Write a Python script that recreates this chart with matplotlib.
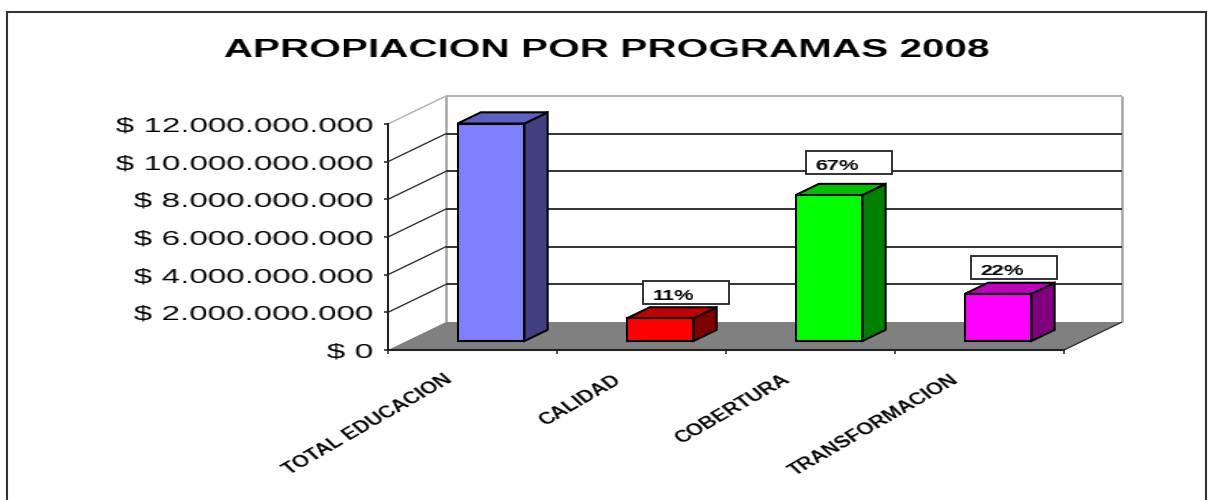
"""Excel style 3D column chart: apropiacion por programas 2008."""

import matplotlib
matplotlib.use("Agg")  # Non-interactive backend
import matplotlib.pyplot as plt
import matplotlib.ticker as ticker
import numpy as np
from matplotlib.patches import Polygon, Rectangle

# --- Data ---
CATEGORIES = ["TOTAL EDUCACION", "CALIDAD", "COBERTURA", "TRANSFORMACION"]
VALUES = [11.55e9, 1.2e9, 7.75e9, 2.5e9]
PERCENT_LABELS = [None, "11%", "67%", "22%"]
Y_TICKS = [0, 2e9, 4e9, 6e9, 8e9, 10e9, 12e9]

# face, top, side
BAR_COLORS = [
    ("#8080FF", "#6060BF", "#404080"),
    ("#FF0000", "#BF0000", "#800000"),
    ("#00FF00", "#00BF00", "#008000"),
    ("#FF00FF", "#BF00BF", "#800080"),
]

# --- Layout (pixels of the 1216x500 figure) ---
W, H = 1216, 500
LEFT, RIGHT, BOTTOM, TOP = 388, 1064, 350, 124
DEPTH_X, DEPTH_Y = 58, 28
BOX_OFFSETS = [None, (44, 14), (38, 21), (34, 15)]  # label box from bar centre / bar top

UX = len(CATEGORIES) / (RIGHT - LEFT)  # category units per pixel
UY = Y_TICKS[-1] / (BOTTOM - TOP)      # value units per pixel

plt.rcParams.update({
    "font.family": ["Liberation Sans", "DejaVu Sans"],
    "figure.dpi": 100,
})


def stretch_x(share, factor=1.5):
    """Agg filter widening a text (the source picture is stretched sideways).

    share says which part of the growth goes to the left.
    """
    def _filter(img, dpi):
        h, w = img.shape[:2]
        new_w = int(round(w * factor))
        xs = np.linspace(0, w - 1, new_w)
        lo = np.floor(xs).astype(int)
        hi = np.minimum(lo + 1, w - 1)
        frac = (xs - lo)[None, :, None]
        out = img[:, lo] * (1 - frac) + img[:, hi] * frac
        return out, -int((new_w - w) * share), 0
    return _filter


def project(x, y, d):
    """Oblique projection: d=0 is the front plane, d=1 the back wall."""
    return x + d * DEPTH_X * UX, y + d * DEPTH_Y * UY


def face(ax, points, color, zorder, edge="black", lw=1.5):
    ax.add_patch(Polygon([project(*p) for p in points], closed=True, facecolor=color,
                         edgecolor=edge, linewidth=lw, zorder=zorder, clip_on=False))


def line3d(ax, p0, p1, color, lw, zorder=1):
    a, b = project(*p0), project(*p1)
    ax.plot([a[0], b[0]], [a[1], b[1]], color=color, linewidth=lw, zorder=zorder,
            clip_on=False, solid_capstyle="butt")


fig = plt.figure(figsize=(W / 100, H / 100), dpi=100, facecolor="white")
ax = fig.add_axes([LEFT / W, (H - BOTTOM) / H, (RIGHT - LEFT) / W, (BOTTOM - TOP) / H])
ax.set_xlim(0, len(CATEGORIES))
ax.set_ylim(0, Y_TICKS[-1])
ax.patch.set_visible(False)
n = len(CATEGORIES)

# outer frame, bottom runs off the picture
fig.add_artist(Rectangle((7 / W, -0.1), 1199 / W, 1.1 - 12 / H, transform=fig.transFigure,
                         fill=False, edgecolor="#333333", linewidth=1.5))

# walls
line3d(ax, (0, 0, 1), (0, Y_TICKS[-1], 1), "#a6a6a6", 1.8)
line3d(ax, (n, 0, 1), (n, Y_TICKS[-1], 1), "#a6a6a6", 1.8)
line3d(ax, (0, Y_TICKS[-1], 0), (0, Y_TICKS[-1], 1), "#b0b0b0", 1.0)
line3d(ax, (0, Y_TICKS[-1], 1), (n, Y_TICKS[-1], 1), "#a6a6a6", 1.2)
for v in Y_TICKS[1:-1]:
    line3d(ax, (0, v, 0), (0, v, 1), "#333333", 1.0)
    line3d(ax, (0, v, 1), (n, v, 1), "#333333", 1.4)

# floor
face(ax, [(0, 0, 0), (n, 0, 0), (n, 0, 1), (0, 0, 1)], "#808080", 2, edge="none", lw=0)
line3d(ax, (n, 0, 0), (n, 0, 1), "#333333", 1.0, zorder=3)

# bars
bar_w = 0.395
d0, d1 = 0.32, 0.72
for i, (v, (c_face, c_top, c_side)) in enumerate(zip(VALUES, BAR_COLORS)):
    x0, x1 = i + 0.5 - bar_w / 2, i + 0.5 + bar_w / 2
    face(ax, [(x1, 0, d0), (x1, 0, d1), (x1, v, d1), (x1, v, d0)], c_side, 4)
    face(ax, [(x0, v, d0), (x1, v, d0), (x1, v, d1), (x0, v, d1)], c_top, 4)
    face(ax, [(x0, 0, d0), (x1, 0, d0), (x1, v, d0), (x0, v, d0)], c_face, 5)

# percent labels in fixed size boxes above the bars
box_w, box_h = 86 * UX, 23 * UY
for i, (v, label, offset) in enumerate(zip(VALUES, PERCENT_LABELS, BOX_OFFSETS)):
    if label is None:
        continue
    bx = i + 0.5 + offset[0] * UX - box_w / 2
    by = v + (9 + offset[1]) * UY
    ax.add_patch(Rectangle((bx, by), box_w, box_h, facecolor="white", edgecolor="#222222",
                           linewidth=1.3, zorder=6, clip_on=False))
    ax.text(bx + 10 * UX, by + 8 * UY, label, fontsize=10.5, fontweight="bold", va="center",
            ha="left", zorder=7, agg_filter=stretch_x(0, 1.5))

# axes
for side in ("top", "right"):
    ax.spines[side].set_visible(False)
for side in ("left", "bottom"):
    ax.spines[side].set_color("#222222")
    ax.spines[side].set_linewidth(1.5)
    ax.spines[side].set_zorder(8)
ax.set_xticks(np.arange(n + 1))
ax.set_xticklabels([])
ax.set_yticks(Y_TICKS)
ax.yaxis.set_major_formatter(ticker.FuncFormatter(lambda v, _: f"$ {v:,.0f}".replace(",", ".")))
ax.tick_params(axis="both", length=3, width=1.1, color="#222222")
ax.tick_params(axis="y", pad=8, labelsize=14.5)
for tick_label in ax.get_yticklabels():
    tick_label.set_agg_filter(stretch_x(1, 1.65))

for i, name in enumerate(CATEGORIES):
    ax.text(i + 0.5 - 27 * UX, -22 * UY, name, fontsize=11.5, fontweight="bold", rotation=38,
            ha="right", va="top", rotation_mode="anchor", agg_filter=stretch_x(1, 1.36))

fig.text(606 / W, 1 - 50 / H, "APROPIACION POR PROGRAMAS 2008", fontsize=19, fontweight="bold",
         ha="center", va="center", agg_filter=stretch_x(0.5, 1.536))

fig.savefig("out.png", dpi=100)
plt.close(fig)
